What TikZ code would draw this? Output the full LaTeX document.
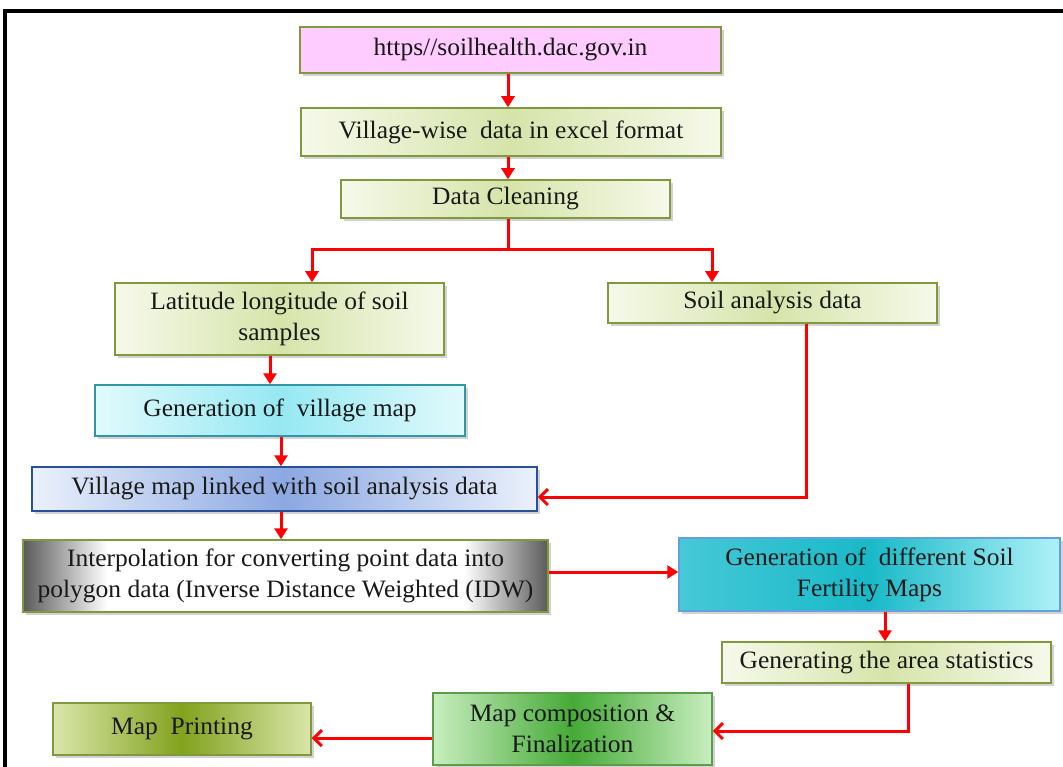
\documentclass[tikz,border=0pt]{standalone}
\usepackage{fontspec}
\setmainfont[FakeStretch=1.02]{Liberation Serif}
\usetikzlibrary{arrows.meta,shadows,calc}
\definecolor{olive}{RGB}{128,152,62}
\definecolor{glite}{RGB}{246,249,234}
\definecolor{gmid}{RGB}{214,228,170}
\definecolor{arrred}{RGB}{255,0,0}
\definecolor{edgegray}{RGB}{90,90,90}
\pgfdeclarehorizontalshading{grayedge}{100bp}{color(0bp)=(edgegray); color(25bp)=(edgegray); color(33bp)=(white); color(67bp)=(white); color(75bp)=(edgegray); color(100bp)=(edgegray)}
\tikzset{
  box/.style={draw, line width=1.5pt, align=center, inner sep=0pt,
    font=\fontsize{25}{31}\selectfont, text=black!90,
    drop shadow={opacity=0.35, shadow xshift=3pt, shadow yshift=-3pt}},
  gbox/.style={box, draw=olive, left color=glite, right color=glite, middle color=gmid},
  arr/.style={draw=arrred, line width=3pt, -{Triangle[length=11pt,width=13pt]}},
  barb/.style={draw=arrred, line width=3pt, -{Straight Barb[length=8pt,width=16pt,line width=3pt]}},
  plain/.style={draw=arrred, line width=3pt}
}
\begin{document}
\begin{tikzpicture}[x=1pt,y=-1pt]
\useasboundingbox (0,0) rectangle (1063,767);
\fill[white] (0,0) rectangle (1063,767);
\draw[line width=4pt] (5,790) -- (5,11) -- (1090,11);

\node[box, draw=olive, fill={rgb,255:red,255;green,204;blue,255}, minimum width=421pt, minimum height=46pt] (url) at (510.5,50) {https//soilhealth.dac.gov.in};
\node[gbox, minimum width=420pt, minimum height=48pt] (village) at (511,132) {Village-wise\ \ data in excel format};
\node[gbox, minimum width=329pt, minimum height=38pt] (clean) at (505.5,199) {Data Cleaning};
\node[gbox, minimum width=329pt, minimum height=72pt] (lat) at (279.5,319) {Latitude longitude of soil\\samples};
\node[gbox, minimum width=329pt, minimum height=40pt] (soil) at (772.5,303) {Soil analysis data};
\node[box, draw={rgb,255:red,49;green,150;blue,165}, left color={rgb,255:red,225;green,250;blue,252}, right color={rgb,255:red,225;green,250;blue,252}, middle color={rgb,255:red,150;green,232;blue,242}, minimum width=370pt, minimum height=51pt] (genv) at (280,410.5) {Generation of\ \ village map};
\node[box, draw={rgb,255:red,40;green,80;blue,150}, left color={rgb,255:red,235;green,241;blue,251}, right color={rgb,255:red,235;green,241;blue,251}, middle color={rgb,255:red,140;green,168;blue,225}, minimum width=505pt, minimum height=44pt] (linked) at (284.5,489) {Village map linked with soil analysis data};
\node[box, draw=olive, shading=grayedge, shading angle=0, minimum width=525pt, minimum height=72pt] (interp) at (285.5,576) {Interpolation for converting point data into\\polygon data (Inverse Distance Weighted (IDW)};
\node[box, draw={rgb,255:red,100;green,160;blue,220}, left color={rgb,255:red,70;green,200;blue,215}, right color={rgb,255:red,175;green,242;blue,248}, middle color={rgb,255:red,25;green,185;blue,200}, minimum width=381pt, minimum height=73pt] (fert) at (869.5,574.5) {Generation of\ \ different Soil\\Fertility Maps};
\node[gbox, minimum width=329pt, minimum height=41pt] (stats) at (886.5,662.5) {Generating the area statistics};
\node[box, draw={rgb,255:red,92;green,156;blue,74}, left color={rgb,255:red,200;green,238;blue,192}, right color={rgb,255:red,200;green,238;blue,192}, middle color={rgb,255:red,70;green,170;blue,55}, minimum width=279pt, minimum height=72pt] (comp) at (572.5,729) {Map composition \&\\Finalization};
\node[box, draw=olive, left color={rgb,255:red,218;green,230;blue,170}, right color={rgb,255:red,218;green,230;blue,170}, middle color={rgb,255:red,130;green,162;blue,30}, minimum width=258pt, minimum height=52pt] (print) at (182,729) {Map\ \ Printing};

\coordinate (split) at (508,250);
\coordinate (sl) at (312,250);
\coordinate (sr) at (712,250);

\draw[arr] ([xshift=-2.5pt]url.south) -- ([xshift=-2.5pt]url.south |- village.north);
\draw[arr] ([xshift=-3pt]village.south) -- ([xshift=-3pt]village.south |- clean.north);
\draw[plain] (clean.south -| split) -- (split);
\draw[plain] (sl) -- (sr);
\draw[arr] ([yshift=1.5pt]sl) -- (sl |- lat.north);
\draw[arr] ([yshift=1.5pt]sr) -- (sr |- soil.north);
\draw[arr] ([xshift=-9.5pt]lat.south) -- ([xshift=-9.5pt]lat.south |- genv.north);
\draw[arr] ([xshift=1pt]genv.south) -- ([xshift=1pt]genv.south |- linked.north);
\draw[barb] ([xshift=33.5pt]soil.south) |- ([yshift=-8pt]linked.east);
\draw[arr] ([xshift=-3.5pt]linked.south) -- ([xshift=-3.5pt]linked.south |- interp.north);
\draw[arr] ([yshift=4pt]interp.east) -- ([yshift=4pt]interp.east -| fert.west);
\draw[arr] ([xshift=15.5pt]fert.south) -- ([xshift=15.5pt]fert.south |- stats.north);
\draw[barb] ([xshift=21.5pt]stats.south) |- ([yshift=-2pt]comp.east);
\draw[barb] ([yshift=-9pt]comp.west) -- ([yshift=-9pt]comp.west -| print.east);
\end{tikzpicture}
\end{document}
